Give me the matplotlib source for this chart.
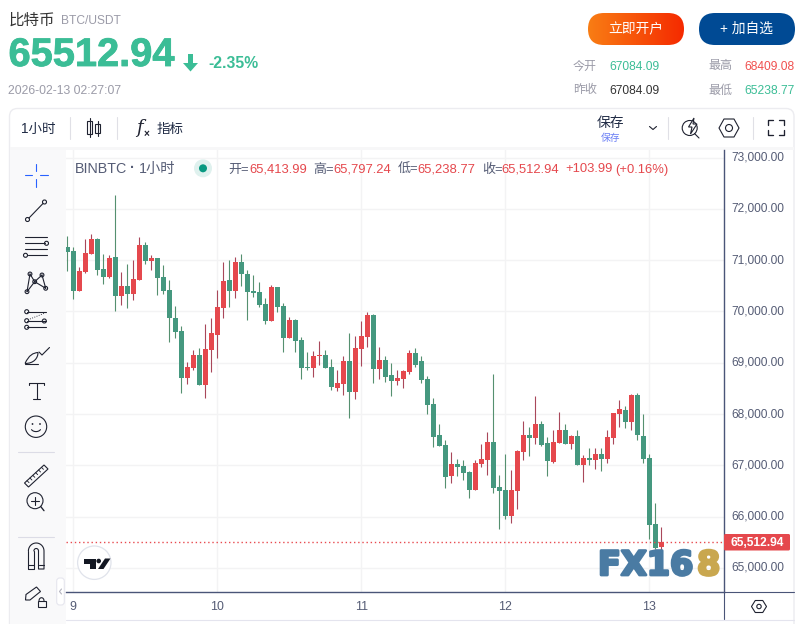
import numpy as np
import matplotlib
matplotlib.use("Agg")
import matplotlib.pyplot as plt
import matplotlib.patheffects as pe
from matplotlib.patches import FancyBboxPatch, Circle, Polygon, Rectangle, PathPatch
from matplotlib.path import Path
from matplotlib.transforms import ScaledTranslation

plt.rcParams['font.family'] = ['Liberation Sans', 'Noto Sans CJK SC', 'DejaVu Sans']

opens = [71255, 71177, 70397, 70768, 71119, 71411, 70826, 70670, 71060, 70300,
         70495, 70339, 70612, 71294, 70982, 71041, 70670, 70417, 69871, 69617,
         68701, 68896, 69149, 68564, 69247, 69539, 70066, 70612, 70398, 70964,
         70730, 70398, 70379, 70145, 69813, 70476, 70106, 69482, 69833, 69443,
         68916, 68897, 69137, 69150, 68916, 68507, 68585, 69033, 68429, 69267,
         69501, 69930, 68877, 69053, 68761, 68644, 68683, 68820, 69190, 69034,
         68683, 68196, 67591, 67396, 66792, 67026, 66987, 66870, 66519, 67026,
         67104, 67455, 66577, 66519, 66012, 66499, 67260, 67591, 67533, 67806,
         67435, 67065, 67435, 67689, 67416, 67572, 67006, 67143, 67104, 67221,
         67123, 67533, 68001, 68079, 67845, 68371, 67572, 67143, 65856, 65413.99]
highs = [71470, 71255, 70865, 71411, 71509, 71431, 71119, 71099, 72269, 70768,
         70924, 71002, 71450, 71353, 71099, 71041, 70904, 70612, 70105, 69715,
         69013, 69247, 69286, 69754, 69871, 70417, 70963, 71002, 71061, 71120,
         70808, 70710, 70574, 70262, 70515, 70476, 70164, 69891, 69852, 69501,
         69209, 69228, 69423, 69248, 69072, 68858, 69131, 69579, 69521, 69813,
         69989, 69950, 69306, 69131, 68995, 68859, 68859, 69249, 69288, 69132,
         68742, 68313, 67806, 67494, 67260, 67123, 67104, 66889, 67104, 67416,
         67650, 68781, 66811, 67221, 66909, 67299, 67864, 67747, 68352, 67864,
         67552, 67689, 68040, 67806, 67591, 67689, 67201, 67338, 67338, 67338,
         67689, 68020, 68274, 68157, 68391, 68410, 68001, 67221, 66265, 65797.24]
lows = [70787, 70241, 70397, 70748, 71119, 70709, 70534, 70651, 70007, 70124,
        70066, 70222, 70612, 70924, 70807, 70319, 70339, 69403, 69481, 68408,
        68584, 68857, 68564, 68311, 68818, 69091, 69871, 70086, 70262, 70496,
        69833, 70281, 70086, 69755, 69813, 69989, 69209, 69482, 69209, 68682,
        68858, 68721, 68955, 68897, 68468, 68448, 68370, 67922, 68292, 68936,
        69306, 68604, 68682, 68624, 68352, 68566, 68508, 68781, 68917, 68605,
        68001, 67357, 67377, 66558, 66655, 66792, 66714, 66363, 66519, 66967,
        66811, 66460, 65758, 65953, 65875, 66148, 67104, 67182, 67416, 67377,
        66792, 67045, 67435, 67416, 67318, 67006, 66675, 67006, 66928, 66889,
        67045, 67416, 67747, 67728, 67689, 67494, 67045, 65563, 65368, 65238.77]
closes = [71158, 70397, 70787, 71138, 71411, 70807, 70670, 71041, 70300, 70495,
          70339, 70631, 71294, 70982, 71041, 70651, 70397, 69871, 69598, 68701,
          68915, 69149, 68564, 69266, 69578, 70085, 70592, 70397, 70964, 70730,
          70379, 70359, 70125, 69813, 70476, 70086, 69482, 69833, 69423, 68897,
          68897, 69131, 69150, 68897, 68526, 68604, 69033, 68429, 69287, 69521,
          69930, 68877, 69053, 68721, 68644, 68703, 68839, 69190, 68956, 68664,
          68176, 67552, 67377, 66772, 67026, 66967, 66850, 66519, 67045, 67123,
          67455, 66558, 66499, 66012, 66519, 67279, 67591, 67533, 67806, 67396,
          67084, 67455, 67689, 67416, 67572, 67006, 67143, 67104, 67221, 67123,
          67552, 68020, 68098, 67845, 68371, 67591, 67123, 65836, 65388, 65512.94]
price_ticks = [65000, 66000, 67000, 68000, 69000, 70000, 71000, 72000, 73000]
day_positions = [1, 25, 49, 73, 97]
day_labels = ['9', '10', '11', '12', '13']
last_price = 65512.94

W, H = 806, 624
UP, DOWN = '#e5484d', '#45987f'
UP_W, DOWN_W = '#a9475a', '#55906f'
AXIS = '#4a5578'
TEXT = '#555c75'
GREEN = '#3bbd96'
RED = '#f0504f'
GRAY = '#9b9ba8'
ICON = '#1f2230'

fig = plt.figure(figsize=(W / 100, H / 100), dpi=100, facecolor='white')

# candlestick panel
L, R, T, B = 66, 724, 150, 592
ax = fig.add_axes([L / W, 1 - B / H, (R - L) / W, (B - T) / H], zorder=2)
o, h, l, c = map(np.array, (opens, highs, lows, closes))
x = np.arange(len(o))
up = c >= o
ax.set_axisbelow(True)
ax.grid(True, color='#f3f3f4', lw=1)
ax.vlines(x, l, h, colors=np.where(up, UP_W, DOWN_W), lw=0.8, zorder=3)
ax.bar(x, np.abs(c - o), bottom=np.minimum(o, c), width=0.86,
       color=np.where(up, UP, DOWN), lw=0, zorder=4)
ax.axhline(last_price, color='#e84a4f', lw=1, ls=(0, (1, 2)), zorder=5)
ax.set_xlim(-0.217, 109.45)
ax.set_ylim(64532, 73148)
ax.yaxis.tick_right()
ax.set_yticks(price_ticks)
ax.set_yticklabels([f'{p:,.2f}' for p in price_ticks], fontsize=8.6, color=TEXT)
ax.set_xticks(day_positions)
ax.set_xticklabels(day_labels, fontsize=8.9, color=TEXT)
ax.tick_params(axis='y', length=0, pad=5)
ax.tick_params(axis='x', length=0, pad=6.2)
shift = ScaledTranslation(0, 1.5 / 100, fig.dpi_scale_trans)
for lab in ax.get_yticklabels():
    lab.set_transform(lab.get_transform() + shift)
for s in ('top', 'left'):
    ax.spines[s].set_visible(False)
for s in ('right', 'bottom'):
    ax.spines[s].set_color(AXIS)
    ax.spines[s].set_linewidth(1)

# page furniture, in pixel coordinates
bg = fig.add_axes([0, 0, 1, 1], zorder=1)
ui = fig.add_axes([0, 0, 1, 1], zorder=3)
for a in (bg, ui):
    a.set_xlim(0, W)
    a.set_ylim(H, 0)
    a.axis('off')
ui.patch.set_alpha(0)


def rrect(a, x0, y0, x1, y1, r, **kw):
    p = FancyBboxPatch((x0 + r, y0 + r), x1 - x0 - 2 * r, y1 - y0 - 2 * r,
                       boxstyle=f'round,pad={r},rounding_size={r}', **kw)
    a.add_patch(p)
    return p


def txt(px, py, s, size, color=ICON, ha='left', va='center', **kw):
    return ui.text(px, py, s, fontsize=size * 0.72, color=color, ha=ha, va=va, **kw)


def line(pts, lw=1.0, color=ICON, **kw):
    xs, ys = zip(*pts)
    ui.plot(xs, ys, color=color, lw=lw * 0.8, solid_capstyle='round', **kw)


def ring(cx, cy, r, lw=1.0, color=ICON, fc='none'):
    ui.add_patch(Circle((cx, cy), r, fc=fc, ec=color, lw=lw * 0.8))


def hexagon(cx, cy, rx, ry, inner):
    pts = [(cx - rx, cy), (cx - rx / 2, cy - ry), (cx + rx / 2, cy - ry),
           (cx + rx, cy), (cx + rx / 2, cy + ry), (cx - rx / 2, cy + ry)]
    ui.add_patch(Polygon(pts, closed=True, fc='none', ec=ICON, lw=0.8))
    ring(cx, cy, inner)


def thick(artist, width, color):
    artist.set_path_effects([pe.withStroke(linewidth=width, foreground=color)])


# card, toolbars
rrect(bg, 9.5, 108.5, 794, 640, 8, fc='white', ec='#ececf0', lw=1)
bg.add_patch(Rectangle((10, 146.5), 783.5, 3.5, fc='#f7f7f8', lw=0))
bg.add_patch(Rectangle((10, 150), 56, 474, fc='#f9f9fa', lw=0))
line([(66, 620), (793.5, 620)], color='#e4e4ee')
line([(R, B), (R, 619)], color=AXIS)
line([(R, B), (793.5, B)], color=AXIS)

# header
txt(9, 20.5, '比特币', 15.5, '#333333')
txt(61.5, 20.5, 'BTC/USDT', 12, GRAY)
thick(txt(8.5, 55, '65512.94', 39.8, GREEN, weight='bold'), 0.6, GREEN)
ui.add_patch(Polygon([(188, 54), (193, 54), (193, 63), (198, 63), (190.5, 71.5),
                      (183, 63), (188, 63)], closed=True, fc=GREEN, lw=0))
txt(208.5, 64, '-2.35%', 15.8, GREEN, weight='bold')
txt(8.5, 90.5, '2026-02-13 02:27:07', 12.2, GRAY)

# buttons
grad = np.linspace(0, 1, 128).reshape(1, -1)
cmap = matplotlib.colors.LinearSegmentedColormap.from_list('b', ['#f97d14', '#f52a00'])
im = ui.imshow(grad, cmap=cmap, extent=(588, 684, 45, 13), aspect='auto', zorder=2)
clip = rrect(ui, 588, 13, 684, 45, 16, fc='none', lw=0, zorder=2)
im.set_clip_path(clip)
ui.set_xlim(0, W)
ui.set_ylim(H, 0)
rrect(ui, 699, 13, 795, 45, 16, fc='#004a94', lw=0, zorder=2)
txt(636, 29, '立即开户', 13.8, 'white', ha='center', zorder=3)
txt(747, 29, '+ 加自选', 13.8, 'white', ha='center', zorder=3)

# stats
txt(573, 66.5, '今开', 12, GRAY)
txt(609, 66.5, '67084.09', 12, GREEN)
txt(708, 66.5, '最高', 12, GRAY)
txt(744, 66.5, '68409.08', 12, RED)
txt(573, 90.5, '昨收', 12, GRAY)
txt(609, 90.5, '67084.09', 12, '#333333')
txt(708, 90.5, '最低', 12, GRAY)
txt(744, 90.5, '65238.77', 12, GREEN)

# top toolbar
txt(21, 129, '1小时', 13.5, '#1f2a44')
for sx in (69.5, 116.5, 667.5, 752.5):
    line([(sx, 117), (sx, 139)], color='#e0e0e6')
line([(89.7, 118), (89.7, 137)])
ui.add_patch(Rectangle((87.3, 121), 4.8, 13, fc='white', ec=ICON, lw=0.8))
line([(97.5, 121), (97.5, 136)])
ui.add_patch(Rectangle((95, 124), 5, 9, fc='white', ec=ICON, lw=0.8))
txt(139, 128, 'f', 18, ICON, ha='center', family='DejaVu Serif', style='italic')
txt(146.5, 133.5, '×', 10, ICON, ha='center', weight='bold')
txt(157, 129, '指标', 13.5, '#1f2a44')
txt(610.5, 123.5, '保存', 13.8, '#1f2a44', ha='center')
txt(610.5, 138, '保存', 9.8, '#6a7ff5', ha='center')
line([(649.5, 126.5), (653, 129.5), (656.5, 126.5)])
ring(689.7, 128, 7.5)
ui.add_patch(Polygon([(694, 118), (688.5, 127), (692, 127), (690.5, 134), (697, 124),
                      (693, 124)], closed=True, fc='white', ec=ICON, lw=0.8))
line([(694.5, 133.5), (699, 138)])
hexagon(729, 128, 10, 9, 3.5)
for (cx, cy, dx, dy) in [(767.5, 119.5, 1, 1), (784, 119.5, -1, 1),
                         (767.5, 135, 1, -1), (784, 135, -1, -1)]:
    line([(cx + 5 * dx, cy), (cx, cy), (cx, cy + 5 * dy)], lw=1.2)

# legend row
txt(75, 169, 'BINBTC', 14.3, TEXT)
txt(132, 168, '·', 14.3, TEXT, ha='center', weight='bold')
txt(139, 169, '1小时', 14.3, TEXT)
ui.add_patch(Circle((203, 168.3), 9, fc='#dff1ee', lw=0))
ui.add_patch(Circle((203, 168.3), 4, fc='#089981', lw=0))
for lx, s, col in [(228, '开=', TEXT), (249, '65,413.99', UP), (313, '高=', TEXT),
                   (333, '65,797.24', UP), (398, '低=', TEXT), (417, '65,238.77', UP),
                   (482, '收=', TEXT), (501, '65,512.94', UP), (565, '+103.99', UP),
                   (615, '(+0.16%)', UP)]:
    txt(lx, 169.5, s, 13.0, col)

# price tag
rrect(ui, R, 534, 790, 550.5, 1.5, fc=UP, lw=0)
txt(757, 542.5, f'{last_price:,.2f}', 12, 'white', ha='center', weight='bold')

# left drawing tools
BLUE = '#2962ff'
line([(25, 175), (32, 175)], color=BLUE)
line([(40, 175), (48, 175)], color=BLUE)
line([(36.3, 164), (36.3, 171)], color=BLUE)
line([(36.3, 179), (36.3, 187)], color=BLUE)
line([(29, 218), (43, 203.5)])
ring(27.5, 219.5, 2)
ring(44.5, 202, 2)
for yy, x0, x1 in [(237, 25, 47), (243.3, 25, 44.5), (249.3, 25, 47), (255.3, 27.5, 47)]:
    line([(x0, yy), (x1, yy)])
ring(46.5, 243.3, 2, fc='#f9f9fa')
ring(25.5, 255.3, 2, fc='#f9f9fa')
nodes = [(30, 274), (42, 275), (34.7, 281.7), (27, 291.7), (45.7, 288.3)]
for a_, b_ in [(3, 0), (0, 2), (2, 1), (1, 4), (4, 2), (2, 3)]:
    line([nodes[a_], nodes[b_]])
for nx, ny in nodes:
    ring(nx, ny, 1.9, fc='#f9f9fa')
for yy in (311.7, 321, 327.3):
    line([(26.7, yy), (46, yy)])
line([(30, 319), (45, 313)], lw=0.8, ls=':')
for nx, ny in [(26.7, 311.7), (26.7, 320.7), (26.7, 327.3), (44.3, 321)]:
    ring(nx, ny, 2, fc='#f9f9fa')
ui.add_patch(PathPatch(Path([(25, 363.5), (29, 355), (33, 353), (38, 352.5), (38, 358), (34, 363.5), (25, 363.5)],
                            [1, 4, 4, 4, 4, 4, 4]),
                       fc='none', ec=ICON, lw=0.8))
line([(39, 352), (42, 355), (49.5, 347.5)])
line([(25, 364), (38, 364)])
line([(29.3, 382.7), (44, 382.7)])
line([(36.7, 382.7), (36.7, 399.3)])
line([(33.3, 399.3), (40, 399.3)])
line([(29.3, 382.7), (29.3, 385)])
line([(44, 382.7), (44, 385)])
ring(36, 426.7, 10.7)
ui.add_patch(Circle((32.5, 424), 0.9, fc=ICON, lw=0))
ui.add_patch(Circle((40, 424), 0.9, fc=ICON, lw=0))
ss = np.linspace(0.15, 0.85, 12) * np.pi
line(list(zip(36 + 5 * np.cos(ss), 428 + 3.6 * np.sin(ss))))
line([(18, 451.7), (54, 451.7)], color='#dcdce6')
ui.add_patch(Polygon([(24.5, 483), (44, 465), (48, 469), (28.5, 487)], closed=True,
                     fc='none', ec=ICON, lw=0.8))
for t_ in np.linspace(0.13, 0.87, 6):
    a0 = (24.5 + 19.5 * t_, 483 - 18 * t_)
    line([a0, (a0[0] + 2, a0[1] + 2)], lw=0.8)
ring(35, 500.7, 8)
line([(40.7, 506.5), (44, 510.7)], lw=1.2)
line([(31, 500.7), (39, 500.7)])
line([(35, 496.7), (35, 504.7)])
line([(18, 536.7), (54, 536.7)], color='#dcdce6')
ss = np.linspace(np.pi, 2 * np.pi, 24)
line(list(zip(36.2 + 7.8 * np.cos(ss), 551 + 8 * np.sin(ss))) + [(44, 569), (38.5, 569), (38.5, 551)])
line(list(zip(36.2 + 2.3 * np.cos(ss[::-1]), 551 + 2.5 * np.sin(ss[::-1]))))
line([(33.9, 551), (33.9, 569), (28.4, 569), (28.4, 551)])
line([(28.4, 565), (33.9, 565)])
line([(38.5, 565), (44, 565)])
ui.add_patch(Polygon([(25.5, 600), (26, 594.5), (36.5, 587), (40.5, 591.5), (30, 600)],
                     closed=True, fc='none', ec=ICON, lw=0.8))
ui.add_patch(Rectangle((37.5, 600.7), 8, 6.5, fc='#f9f9fa', ec=ICON, lw=0.8))
ss = np.linspace(np.pi, 2 * np.pi, 12)
line(list(zip(41.5 + 2.5 * np.cos(ss), 600.7 + 3 * np.sin(ss))))
rrect(ui, 56.7, 578, 64.3, 605, 3, fc='white', ec='#e6e6ee', lw=0.8)
line([(61.5, 589), (59.5, 591.5), (61.5, 594)], color='#b5b5c0')

# TradingView mark
ui.add_patch(Circle((94.3, 562.7), 16.7, fc='white', ec='#e0e3eb', lw=0.9))
tv = '#131722'
ui.add_patch(Polygon([(84, 558.5), (95.5, 558.5), (95.5, 569), (90, 569), (90, 564), (84, 564)],
                     closed=True, fc=tv, lw=0))
ui.add_patch(Circle((98.7, 561), 2.3, fc=tv, lw=0))
ui.add_patch(Polygon([(105, 558.5), (110.5, 558.5), (103.5, 569), (98, 569)], closed=True, fc=tv, lw=0))

# bottom-right settings hexagon
hexagon(759, 606.5, 7.5, 6, 2.2)

# watermark
thick(txt(598, 565.5, 'FX16', 33.5, '#4a7ba3', weight='bold', family='DejaVu Sans'), 2.0, '#4a7ba3')
thick(txt(697, 565.5, '8', 33.5, '#c9a74f', weight='bold', family='DejaVu Sans'), 2.0, '#c9a74f')

fig.savefig('out.png', dpi=100)
